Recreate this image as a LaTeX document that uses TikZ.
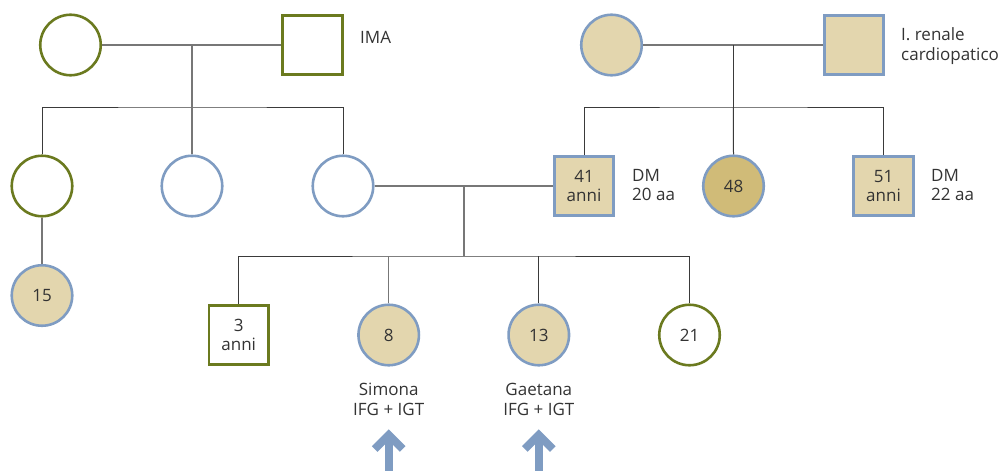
\documentclass[tikz,border=0pt]{standalone}
\usepackage{fontspec}
\setmainfont{Open Sans}
\definecolor{olive}{HTML}{6B7A1F}
\definecolor{bluegr}{HTML}{7F9CC2}
\definecolor{tan}{HTML}{E3D6AE}
\definecolor{darktan}{HTML}{D0BB78}
\definecolor{txt}{HTML}{333333}
\definecolor{lgrey}{HTML}{777777}
\definecolor{dgrey}{HTML}{3A3A3A}
\begin{document}
\begin{tikzpicture}[x=1pt,y=-1pt,
  every node/.style={text=txt, font=\fontsize{17}{19.5}\selectfont},
  fem/.style={circle, draw, line width=2.6pt, minimum size=60.5pt, inner sep=0pt, align=center},
  male/.style={rectangle, draw, line width=2.6pt, minimum size=59.5pt, inner sep=0pt, align=center},
  ol/.style={draw=olive, fill=white},
  bl/.style={draw=bluegr, fill=white},
  bt/.style={draw=bluegr, fill=tan},
  bd/.style={draw=bluegr, fill=darktan},
  lbl/.style={inner sep=0pt, align=left},
  clbl/.style={inner sep=0pt, align=center, font=\fontsize{17}{20}\selectfont},
  marr/.style={draw=lgrey, line width=1.1pt},
  sibl/.style={draw=dgrey, line width=1pt},
  probarrow/.style={draw=bluegr, line width=8pt, line join=miter}
]
\useasboundingbox (0,0) rectangle (1001,471);

% generation I
\node[fem,ol] (gm1) at (70.5,45) {};
\node[male,ol] (gf1) at (312.5,45) {};
\node[lbl, anchor=west] (tIMA) at (360,37) {IMA};
\node[fem,bt] (gm2) at (611.5,45) {};
\node[male,bt] (gf2) at (854,45) {};
\node[lbl, anchor=west] (tren) at (901,46) {I. renale\\cardiopatico};

% generation II
\node[fem,ol] (a1) at (42,186) {};
\node[fem,bl] (a2) at (192,186) {};
\node[fem,bl] (mom) at (343,186) {};
\node[male,bt] (dad) at (584,186) {41\\anni};
\node[lbl, anchor=west] (tdm1) at (632,185) {DM\\20 aa};
\node[fem,bd] (u48) at (733.5,186) {48};
\node[male,bt] (u51) at (883.5,186) {51\\anni};
\node[lbl, anchor=west] (tdm2) at (931,185) {DM\\22 aa};

% generation III
\node[fem,bt] (c15) at (42,295.5) {15};
\node[male,ol] (s3) at (238.7,335) {3\\anni};
\node[fem,bt] (s8) at (388.7,335) {8};
\node[fem,bt] (s13) at (538.8,335) {13};
\node[fem,ol] (s21) at (689.5,335) {21};
\node[clbl] (l8) at (388.7,399.5) {Simona\\IFG + IGT};
\node[clbl] (l13) at (538.8,399.5) {Gaetana\\IFG + IGT};

% coordinates
\coordinate (m1) at (192,45);
\coordinate (sib1) at (192,107);
\coordinate (m2) at (733.3,45);
\coordinate (sib2) at (733.3,107);
\coordinate (m3) at (464,186);
\coordinate (sib3) at (464,256);
\coordinate (ar1t) at (388.7,435);
\coordinate (ar1b) at (388.7,471);
\coordinate (ar2t) at (538.8,435);
\coordinate (ar2b) at (538.8,471);

% connectors
\draw[marr] (gm1.east) -- (gf1.west);
\draw[marr] (m1) -- (sib1);
\draw[sibl] (a1.north) |- (sib1) -| (mom.north);
\draw[marr] (sib1) -- (a2.north);
\draw[marr] (a1.south) -- (c15.north);

\draw[marr] (gm2.east) -- (gf2.west);
\draw[sibl] (m2) -- (sib2);
\draw[sibl] (dad.north) |- (sib2) -| (u51.north);
\draw[sibl] (sib2) -- (u48.north);

\draw[marr] (mom.east) -- (dad.west);
\draw[marr] (m3) -- (sib3);
\draw[sibl] (s3.north) |- (sib3) -| (s21.north);
\draw[marr] (s8.north) -- (s8.north |- sib3);
\draw[sibl] (s13.north) -- (s13.north |- sib3);

% proband arrows
\draw[probarrow] (ar1b) -- ([yshift=-3pt]ar1t);
\draw[probarrow] (ar1t) ++(-14,14) -- (ar1t) -- ++(14,14);
\draw[probarrow] (ar2b) -- ([yshift=-3pt]ar2t);
\draw[probarrow] (ar2t) ++(-14,14) -- (ar2t) -- ++(14,14);
\end{tikzpicture}
\end{document}
